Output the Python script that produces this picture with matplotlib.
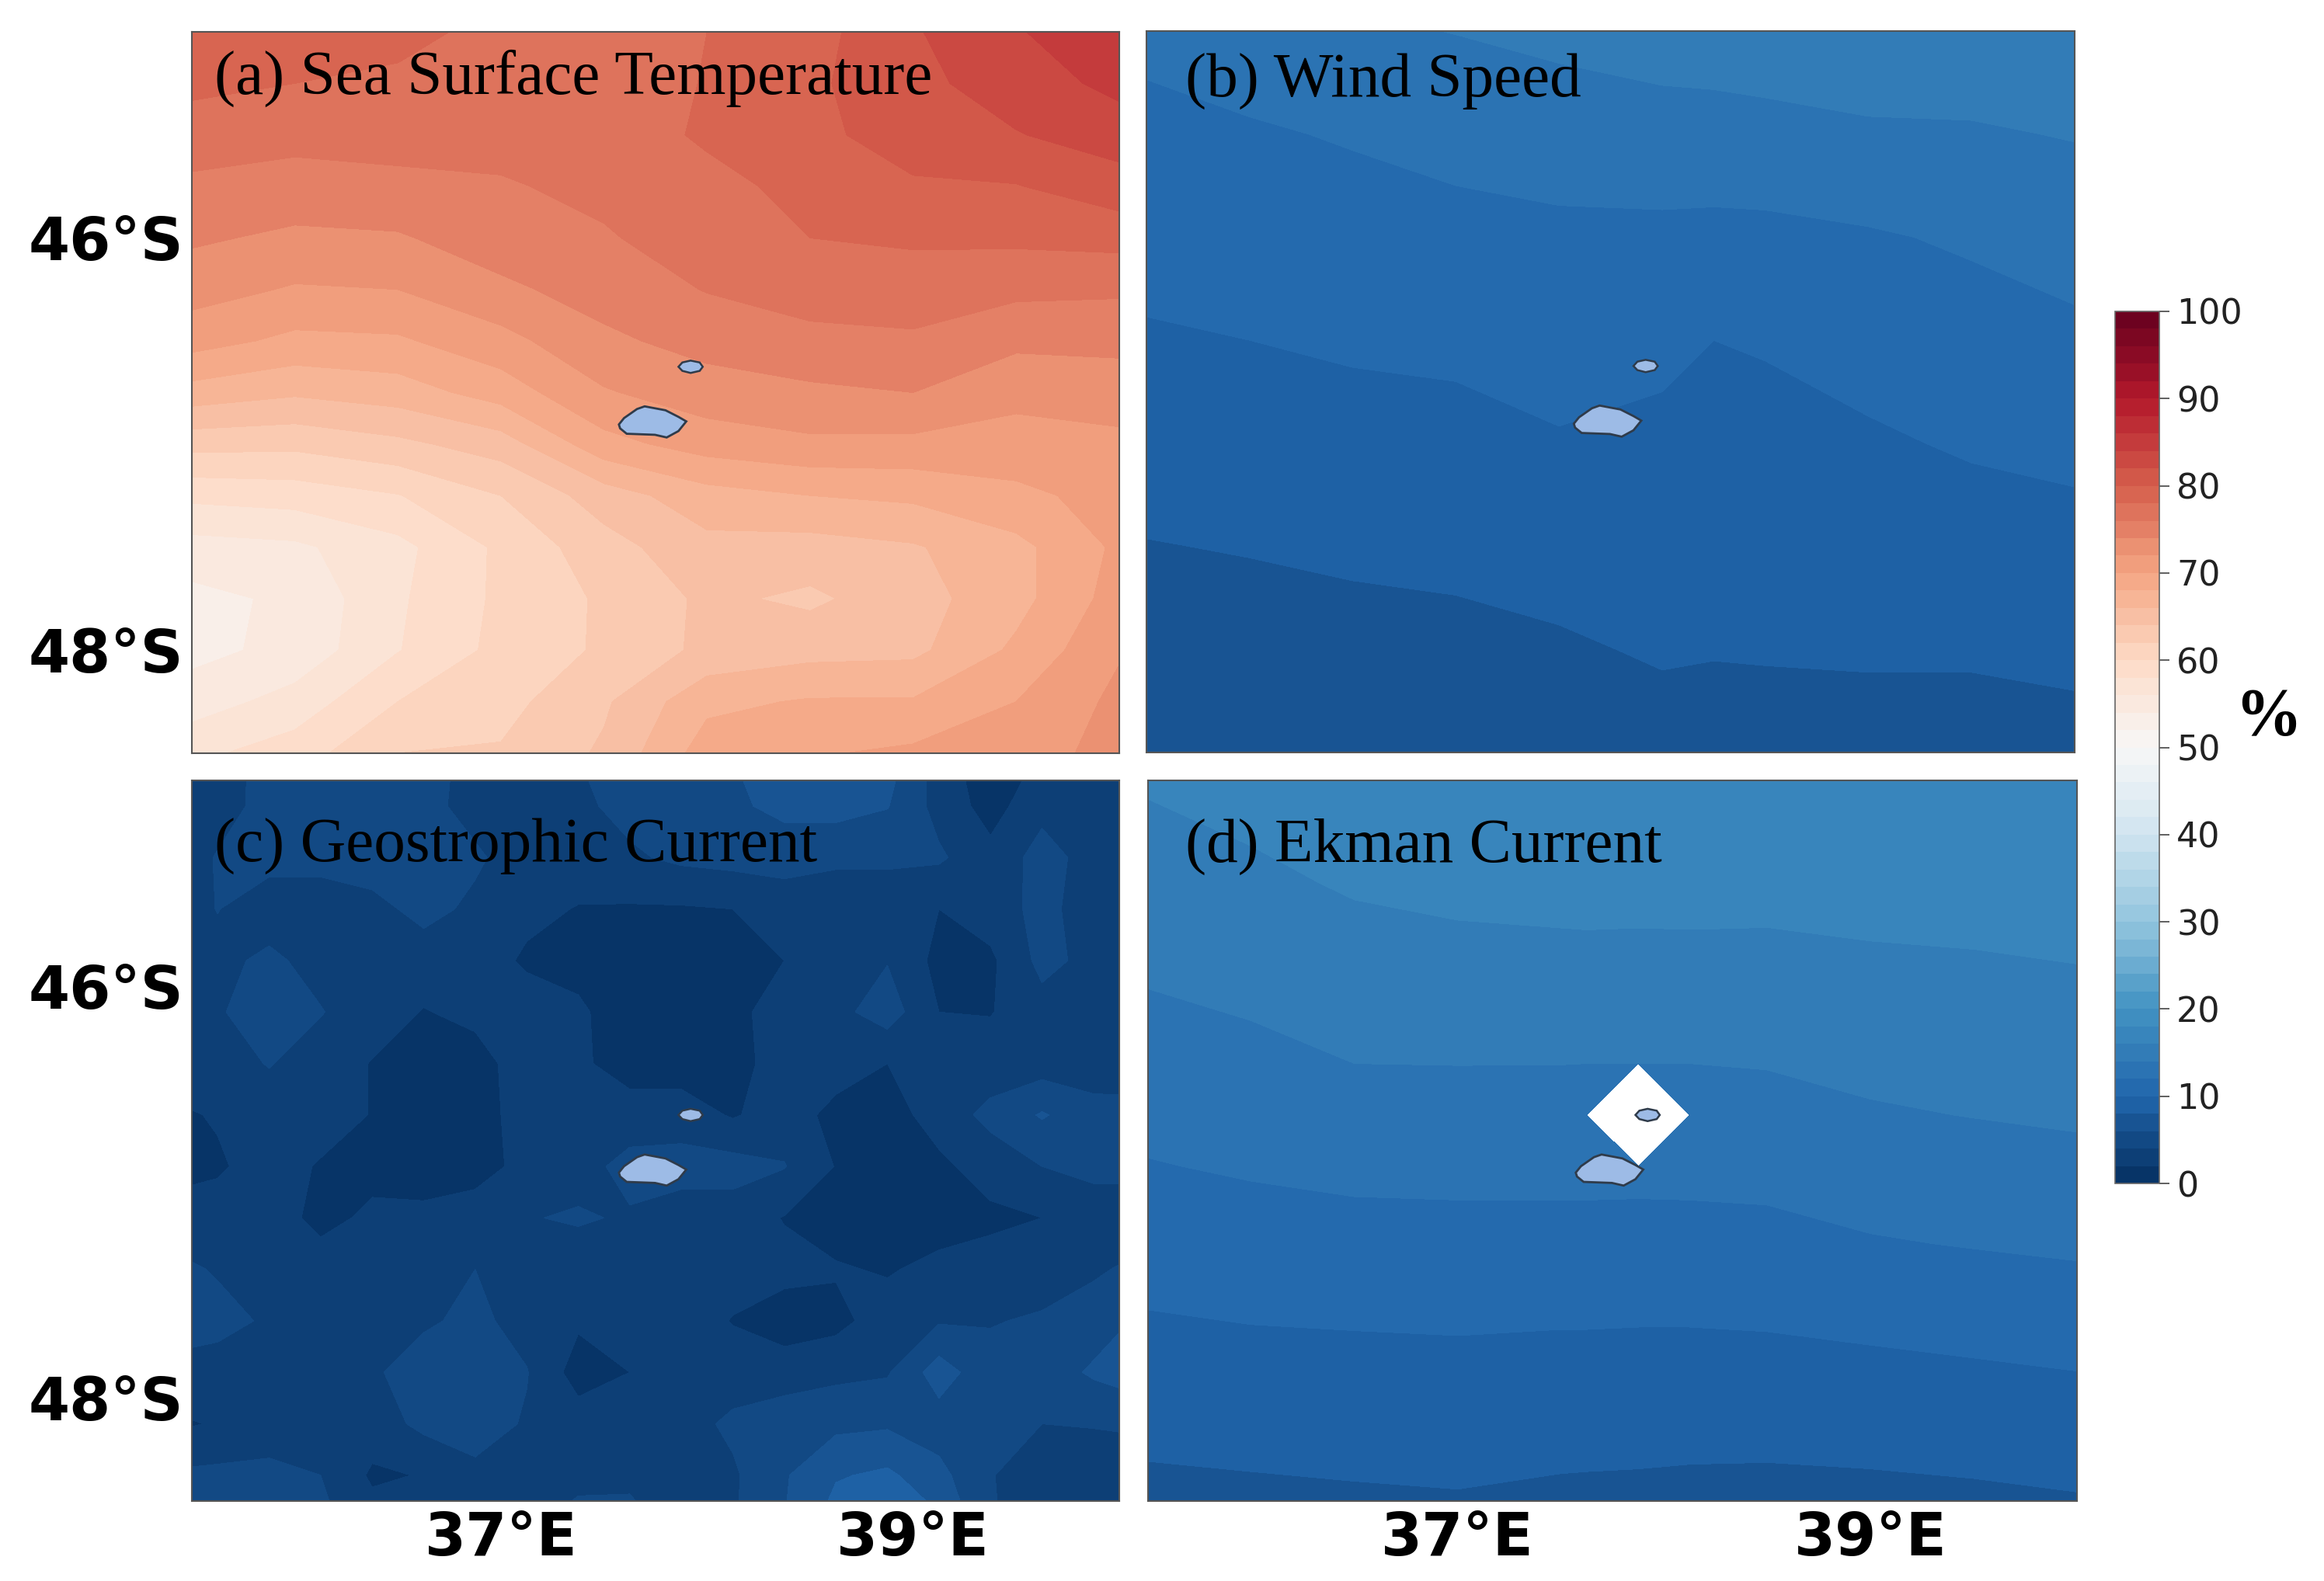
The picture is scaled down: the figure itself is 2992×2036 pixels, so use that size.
import numpy as np
import matplotlib
matplotlib.use('Agg')
import matplotlib.pyplot as plt

W = 2992
H = 2036

levels = np.arange(0, 101, 2)
cbar_ticks = np.arange(0, 101, 10)

# (a) sea surface temperature share, %
lon_a = [35.5, 36.0, 36.5, 37.0, 37.5, 38.0, 38.5, 39.0, 39.5, 40.0]
lat_a = [-45.0, -45.25, -45.5, -45.75, -46.0, -46.25, -46.5, -46.75, -47.0, -47.25, -47.5, -47.75, -48.0, -48.25, -48.5]
sst = [
    [79.0, 79.5, 78.6, 77.4, 77.0, 78.0, 79.2, 81.8, 83.8, 85.8],
    [78.5, 78.0, 77.6, 77.2, 77.0, 78.1, 79.6, 81.5, 82.9, 84.6],
    [77.0, 76.6, 76.9, 76.7, 76.9, 78.3, 79.4, 81.1, 81.9, 82.9],
    [75.6, 75.2, 75.4, 75.8, 76.5, 77.4, 78.6, 79.7, 79.9, 81.2],
    [74.3, 73.6, 73.8, 75.0, 75.8, 77.0, 78.0, 78.3, 78.4, 78.7],
    [72.8, 71.8, 72.0, 73.6, 74.8, 76.1, 76.8, 77.0, 76.5, 76.3],
    [70.8, 69.5, 69.7, 71.3, 73.6, 74.7, 75.5, 75.7, 74.4, 74.6],
    [67.2, 66.3, 67.0, 68.9, 71.8, 73.1, 73.6, 74.0, 72.7, 72.8],
    [62.7, 62.5, 63.5, 65.0, 69.3, 70.9, 71.6, 71.5, 71.0, 71.6],
    [58.5, 58.9, 59.9, 62.0, 65.0, 67.2, 68.0, 68.4, 69.6, 70.6],
    [55.2, 55.6, 57.4, 60.4, 63.2, 65.4, 65.2, 65.8, 67.4, 70.4],
    [53.4, 54.4, 57.7, 60.4, 62.3, 64.4, 63.6, 65.2, 67.3, 70.9],
    [53.4, 54.6, 57.9, 60.6, 62.3, 64.5, 65.3, 65.5, 68.4, 71.8],
    [55.0, 56.8, 60.0, 61.3, 63.7, 67.5, 68.2, 68.2, 70.0, 72.5],
    [57.5, 59.0, 62.0, 62.2, 64.3, 69.0, 69.8, 70.4, 71.6, 72.3],
]

# (b) wind speed share, %
lon_b = [35.5, 36.0, 36.5, 37.0, 37.5, 38.0, 38.25, 38.5, 39.0, 39.5, 40.0]
lat_b = [-45.0, -45.5, -46.0, -46.5, -47.0, -47.5, -48.0, -48.5]
wind = [
    [12.4, 13.0, 13.7, 14.05, 14.5, 15.0, 15.05, 15.1, 15.2, 15.3, 15.4],
    [11.55, 11.8, 12.15, 12.6, 12.9, 13.1, 13.2, 13.4, 13.75, 13.8, 14.1],
    [10.68, 10.9, 11.2, 11.4, 11.6, 11.6, 11.5, 11.5, 11.8, 12.25, 12.8],
    [9.8, 10.0, 10.25, 10.4, 10.75, 10.5, 10.0, 10.15, 10.7, 11.15, 11.58],
    [8.87, 9.0, 9.3, 9.4, 9.85, 9.5, 9.3, 9.4, 9.75, 10.2, 10.44],
    [7.93, 8.1, 8.3, 8.45, 8.8, 8.85, 8.8, 8.75, 8.9, 9.15, 9.4],
    [7.0, 7.2, 7.4, 7.5, 7.75, 8.2, 8.1, 8.15, 8.2, 8.2, 8.4],
    [6.5, 6.6, 6.8, 6.9, 7.0, 7.2, 7.2, 7.2, 7.3, 7.3, 7.4],
]

# (c) geostrophic current share, %
lon_c = [35.375 + 0.25 * i for i in range(20)]
lat_c = [-44.875 - 0.25 * j for j in range(16)]
geo = [
    [3, 3.2, 4.6, 5, 5, 5, 3.2, 3, 4, 4.8, 5, 6, 7.6, 7.6, 7.2, 3, 0.5, 2.2, 3, 3],
    [3, 3.4, 4.5, 5, 5, 4.6, 3.3, 3, 3.6, 4.6, 5, 5.6, 6.6, 6.8, 6.1, 3.3, 1.2, 3.4, 3, 3],
    [3, 4.1, 4.6, 4.6, 5, 5, 4.3, 3, 3, 3.7, 4.4, 4.7, 4.7, 4.3, 4.3, 4.3, 2.6, 4.8, 3.2, 3],
    [3, 4.05, 3, 3, 3.4, 4.6, 3.6, 2.5, 1.9, 1.8, 1.8, 2, 3, 3, 3, 2, 3, 4.6, 3, 3],
    [3, 3.5, 4.4, 3.3, 3, 3, 3, 1.7, 1.4, 1, 1, 1, 2, 3, 3.9, 1.4, 1.6, 4.6, 3.4, 3],
    [3, 3.8, 5, 4.1, 2.9, 1.9, 2.5, 3, 2.3, 1, 1, 1.4, 3, 3.4, 5, 2, 1.9, 3.2, 3, 3],
    [3, 3.2, 4.1, 3.1, 1.9, 1, 1.2, 3, 2.4, 1, 1, 1.2, 3, 2.9, 2, 3, 3, 3, 3, 3],
    [1.5, 2.2, 3, 3, 1.9, 1, 1.2, 2.8, 3, 3, 3, 1.8, 3, 1.4, 1, 3, 4.5, 6.2, 4.7, 4.6],
    [1, 1.7, 3, 1.8, 1.4, 1, 1.2, 2.6, 3.3, 4.6, 4.8, 4.8, 4.1, 1.9, 1, 1.5, 3, 4, 4.5, 4.5],
    [3, 3, 3, 1.4, 2.4, 2.5, 3, 3.9, 4.2, 3.8, 3, 3, 1.9, 1, 1, 1, 1.5, 2, 3, 3],
    [4.7, 3.8, 3, 3, 3, 3, 4, 3, 3, 3, 3, 2.8, 2.6, 2.2, 1.8, 2.6, 3, 3.2, 3.7, 4.6],
    [5, 4.7, 3.7, 3, 3, 3.7, 4.5, 3.2, 2.3, 3, 3, 1.9, 1.0, 1.4, 3, 3.8, 3.9, 4.2, 5, 6.4],
    [3.4, 3, 3, 3, 3.7, 5, 5, 4.1, 1.1, 2, 3, 3, 3, 3.5, 3.8, 7, 4.6, 4.9, 6.3, 7.5],
    [1.5, 2.2, 3, 3, 3, 4.5, 4.9, 3.8, 3, 3, 3.2, 4.4, 5.2, 5.5, 5.7, 5, 4.7, 4, 4.1, 4.3],
    [4.3, 4.5, 4.5, 4, 1.7, 2.1, 3.5, 3, 3.6, 3.6, 3, 3.7, 5.8, 7.8, 8.4, 6.6, 4.1, 3, 3, 3],
    [4.5, 4.6, 4.6, 4.5, 3, 3, 3, 3.8, 4.6, 4.7, 3.4, 3.8, 6, 9.2, 9.8, 8.5, 4.2, 3, 3, 3],
]

# (d) ekman current share, %, one cell has no data
lon_d = [35.5, 36.0, 36.5, 37.0, 37.5, 37.625, 37.875, 38.125, 38.5, 39.0, 39.5, 40.0]
lat_d = [-45.0, -45.5, -46.0, -46.375, -46.625, -46.875, -47.25, -47.5, -48.0, -48.25, -48.5]
ekman = [
    [16.2, 16.7, 17.0, 17.2, 17.4, 17.4, 17.45, 17.5, 17.5, 17.5, 17.6, 17.6],
    [15.1, 15.6, 16.2, 16.5, 16.65, 16.7, 16.65, 16.65, 16.6, 16.7, 16.8, 16.9],
    [14.03, 14.4, 14.95, 15.1, 15.15, 15.15, 15.15, 15.2, 15.2, 15.45, 15.55, 15.75],
    [13.1, 13.5, 14.0, 14.03, 14.02, 14.0, 14.0, 14.0, 14.1, 14.45, 14.65, 14.85],
    [12.5, 12.85, 13.2, 13.25, 13.25, 13.25, np.nan, 13.2, 13.3, 13.8, 14.05, 14.25],
    [11.9, 12.2, 12.45, 12.5, 12.5, 12.5, 12.5, 12.5, 12.6, 13.0, 13.2, 13.5],
    [10.9, 11.15, 11.3, 11.35, 11.35, 11.35, 11.3, 11.35, 11.4, 11.85, 12.1, 12.3],
    [10.2, 10.4, 10.5, 10.55, 10.5, 10.5, 10.45, 10.45, 10.55, 10.85, 11.1, 11.4],
    [8.8, 9.0, 9.05, 9.15, 9.0, 9.0, 9.0, 9.0, 9.0, 9.1, 9.3, 9.5],
    [8.15, 8.3, 8.4, 8.5, 8.35, 8.3, 8.3, 8.2, 8.2, 8.3, 8.45, 8.7],
    [7.5, 7.6, 7.75, 7.85, 7.6, 7.6, 7.5, 7.5, 7.4, 7.5, 7.65, 7.85],
]

# Crozet style islands, lon/lat outlines
big_lon = [37.572, 37.597, 37.66, 37.697, 37.798, 37.861, 37.899, 37.861, 37.804, 37.747, 37.61, 37.578]
big_lat = [-46.905, -46.874, -46.83, -46.817, -46.836, -46.868, -46.89, -46.937, -46.968, -46.955, -46.95, -46.924]
small_lon = [37.861, 37.88, 37.92, 37.964, 37.979, 37.964, 37.92, 37.88]
small_lat = [-46.625, -46.604, -46.595, -46.604, -46.625, -46.645, -46.655, -46.645]

xtick_pos = [37, 39]
xtick_lab = ['37°E', '39°E']
ytick_pos = [-46, -48]
ytick_lab = ['46°S', '48°S']

plt.rcParams['contour.corner_mask'] = True


def make_axes(fig, x0, y0, x1, y1):
    # positions given in pixels from the top left of the picture
    return fig.add_axes([x0 / W, 1 - y1 / H, (x1 - x0) / W, (y1 - y0) / H])


def panel(fig, box, lon, lat, values, title, title_xy, left=False, bottom=False):
    ax = make_axes(fig, *box)
    cf = ax.contourf(lon, lat, np.array(values, dtype=float), levels=levels, cmap='RdBu_r', vmin=0, vmax=100)
    ax.fill(big_lon, big_lat, facecolor='#9dbbe6', edgecolor='#2f3b4a', linewidth=2.0, zorder=3)
    ax.fill(small_lon, small_lat, facecolor='#9dbbe6', edgecolor='#2f3b4a', linewidth=1.8, zorder=3)
    ax.set_xlim(35.5, 40)
    ax.set_ylim(-48.5, -45)
    ax.set_xticks(xtick_pos if bottom else [])
    ax.set_yticks(ytick_pos if left else [])
    if bottom:
        ax.set_xticklabels(xtick_lab, fontsize=55, fontweight='bold')
    if left:
        ax.set_yticklabels(ytick_lab, fontsize=55, fontweight='bold')
    ax.tick_params(axis='x', length=0, pad=9)
    ax.tick_params(axis='y', length=0, pad=8)
    for s in ax.spines.values():
        s.set_color('#555555')
        s.set_linewidth(1.5)
    fig.text(title_xy[0] / W, 1 - title_xy[1] / H, title, fontsize=58.5, family='Liberation Serif',
             color='black', ha='left', va='baseline', zorder=5)
    return cf


fig = plt.figure(figsize=(W / 100, H / 100), dpi=100, facecolor='white')

cf = panel(fig, (247, 41, 1441, 970), lon_a, lat_a, sst, '(a) Sea Surface Temperature', (276, 121), left=True)
panel(fig, (1476, 40, 2671, 969), lon_b, lat_b, wind, '(b) Wind Speed', (1526, 125))
panel(fig, (247, 1005, 1441, 1933), lon_c, lat_c, geo, '(c) Geostrophic Current', (276, 1110), left=True, bottom=True)
panel(fig, (1478, 1005, 2674, 1933), lon_d, lat_d, ekman, '(d) Ekman Current', (1526, 1110), bottom=True)

cax = make_axes(fig, 2723, 401, 2780, 1524)
cb = fig.colorbar(cf, cax=cax, ticks=cbar_ticks)
cb.ax.tick_params(labelsize=32, length=9, width=1.2, color='#444444', pad=7, labelcolor='#222222')
cb.outline.set_edgecolor('#666666')
cb.outline.set_linewidth(1.2)

fig.text(2920 / W, 1 - 925 / H, '%', fontsize=62, family='Liberation Serif', fontweight='bold', ha='center', va='center')

fig.savefig('out.png', dpi=100)
